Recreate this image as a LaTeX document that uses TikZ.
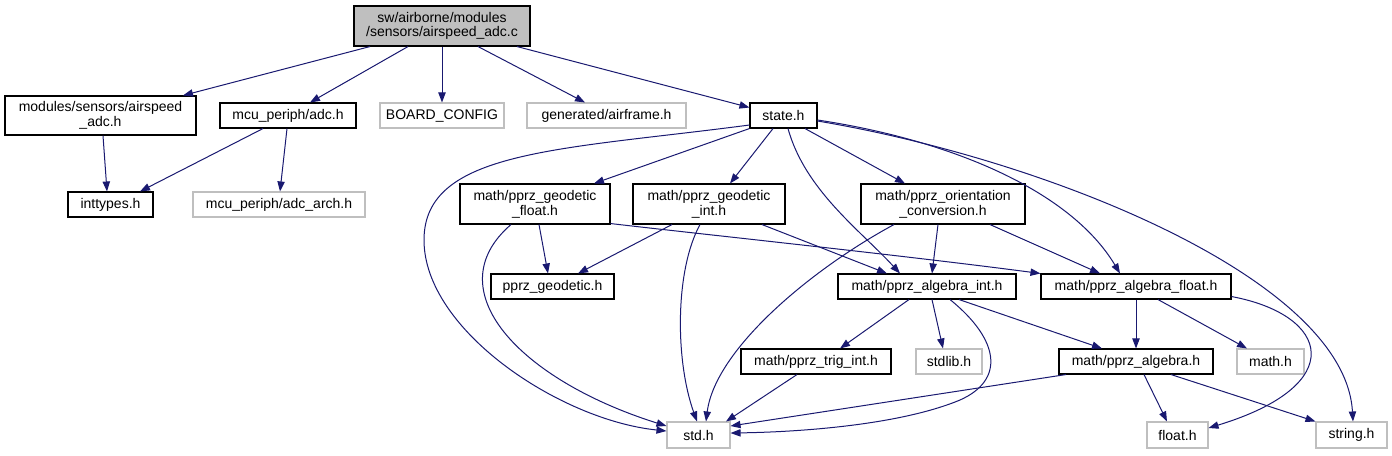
\documentclass[tikz,border=0pt]{standalone}
\usepackage{fontspec}
\setmainfont{Liberation Sans}
\usetikzlibrary{arrows.meta,calc}
\definecolor{edgeblue}{HTML}{191970}
\definecolor{nodegray}{HTML}{BFBFBF}
\begin{document}
\begin{tikzpicture}[x=0.75pt,y=-0.75pt,
  box/.style={draw=black,line width=0.8pt,rectangle,inner sep=0pt,align=center,font=\fontsize{10.5}{11}\selectfont},
  und/.style={box,draw=nodegray},
  bw/.style={minimum width=#1*0.75pt},
  bh/.style={minimum height=#1*0.75pt},
  dep/.style={draw=edgeblue,line width=0.75pt,-{Triangle[length=7.5pt,width=5.5pt]}}]
\path[use as bounding box] (0,0) rectangle (1392,455);
% nodes
\node[box,fill=nodegray,bw=176,bh=40] (root) at (442,26) {sw/airborne/modules\\/sensors/airspeed\_adc.c};
\node[box,bw=191,bh=39] (air) at (100.5,115.5) {modules/sensors/airspeed\\\_adc.h};
\node[box,bw=136,bh=25] (adc) at (288,115.5) {mcu\_periph/adc.h};
\node[und,bw=124,bh=25] (board) at (442,115.5) {BOARD\_CONFIG};
\node[und,bw=159,bh=25] (airframe) at (606.5,115.5) {generated/airframe.h};
\node[box,bw=67,bh=25] (state) at (783.5,115.5) {state.h};
\node[box,bw=85,bh=25] (inttypes) at (110.5,204.5) {inttypes.h};
\node[und,bw=172,bh=25] (adcarch) at (279,204.5) {mcu\_periph/adc\_arch.h};
\node[box,bw=150,bh=40] (gfloat) at (535,204) {math/pprz\_geodetic\\\_float.h};
\node[box,bw=152,bh=40] (gint) at (709,204) {math/pprz\_geodetic\\\_int.h};
\node[box,bw=164,bh=40] (orient) at (943,204) {math/pprz\_orientation\\\_conversion.h};
\node[box,bw=123,bh=25] (geod) at (552.5,286.5) {pprz\_geodetic.h};
\node[box,bw=178,bh=25] (aint) at (927,286.5) {math/pprz\_algebra\_int.h};
\node[box,bw=190,bh=25] (afloat) at (1136,286.5) {math/pprz\_algebra\_float.h};
\node[box,bw=150,bh=25] (trig) at (816,361.5) {math/pprz\_trig\_int.h};
\node[und,bw=66,bh=25] (stdlib) at (949,361.5) {stdlib.h};
\node[box,bw=154,bh=25] (alg) at (1136,361.5) {math/pprz\_algebra.h};
\node[und,bw=67,bh=25] (mathh) at (1270.5,361.5) {math.h};
\node[und,bw=63,bh=26] (std) at (698.5,435) {std.h};
\node[und,bw=61,bh=26] (floath) at (1177.5,435) {float.h};
\node[und,bw=71,bh=26] (stringh) at (1351.5,435) {string.h};
% edges from root
\draw[dep] ($(root.south)+(-72,0)$) -- ($(air.north)+(82.5,0)$);
\draw[dep] ($(root.south)+(-34,0)$) -- ($(adc.north)+(22,0)$);
\draw[dep] (root.south) -- (board.north);
\draw[dep] ($(root.south)+(36,0)$) -- ($(airframe.north)+(-21.5,0)$);
\draw[dep] ($(root.south)+(75,0)$) -- ($(state.west)+(0,-8)$);
% row 1
\draw[dep] ($(air.south)+(2.5,0)$) -- ($(inttypes.north)+(-3.5,0)$);
\draw[dep] ($(adc.south)+(-25,0)$) -- ($(inttypes.north)+(29.5,0)$);
\draw[dep] ($(adc.south)+(-1,0)$) -- ($(adcarch.north)+(1,0)$);
% state.h
\draw[dep] ($(state.west)+(0,9.5)$) .. controls (560,150) and (424,150) .. (424,240)
  .. controls (424,330) and (560,420) .. ($(std.west)+(0,-4)$);
\draw[dep] (state.south west) -- ($(gfloat.north)+(59,0)$);
\draw[dep] ($(state.south)+(-10.5,0)$) -- ($(gint.north)+(21,0)$);
\draw[dep] ($(state.south)+(21.5,0)$) -- ($(orient.north)+(-38,0)$);
\draw[dep] ($(state.south)+(4.5,0)$) .. controls (805,190) and (860,230) .. ($(aint.north)+(-27,0)$);
\draw[dep] ($(state.east)+(0,4.5)$) .. controls (950,140) and (1070,190) .. ($(afloat.north)+(-16,0)$);
\draw[dep] ($(state.east)+(0,5.5)$) .. controls (1050,160) and (1345,280) .. ($(stringh.north)+(1.5,0)$);
% geodetic float
\draw[dep] ($(gfloat.south)+(4,0)$) -- ($(geod.north)+(-4.5,0)$);
\draw[dep] ($(gfloat.south)+(-24,0)$) .. controls (435,290) and (520,380) .. ($(std.west)+(0,-9)$);
\draw[dep] ($(gfloat.south east)+(0,-1)$) .. controls (700,234) and (900,255) .. (afloat.north west);
% geodetic int
\draw[dep] ($(gint.south)+(-37,0)$) -- ($(geod.north)+(25.5,0)$);
\draw[dep] ($(gint.south)+(-9,0)$) .. controls (675,270) and (675,360) .. ($(std.north)+(-1.5,0)$);
\draw[dep] ($(gint.south)+(53,0)$) -- ($(aint.north)+(-40,0)$);
% orientation
\draw[dep] ($(orient.south)+(-49,0)$) .. controls (810,270) and (715,350) .. ($(std.north)+(7.5,0)$);
\draw[dep] ($(orient.south)+(-5,0)$) -- ($(aint.north)+(5,0)$);
\draw[dep] ($(orient.south)+(47,0)$) -- ($(afloat.north)+(-36,0)$);
% algebra int
\draw[dep] ($(aint.south)+(-18,0)$) -- ($(trig.north)+(24,0)$);
\draw[dep] ($(aint.south)+(5,0)$) -- ($(stdlib.north)+(-6,0)$);
\draw[dep] ($(aint.south)+(23,0)$) .. controls (1000,340) and (1005,380) .. (960,400)
  .. controls (900,425) and (800,432) .. ($(std.east)+(0,-2)$);
\draw[dep] ($(aint.south)+(32,0)$) -- ($(alg.north)+(-34,0)$);
% algebra float
\draw[dep] (afloat.south) -- (alg.north);
\draw[dep] ($(afloat.south)+(22,0)$) -- ($(mathh.north)+(-23.5,0)$);
\draw[dep] ($(afloat.south east)+(0,-3)$) .. controls (1330,315) and (1350,385) .. ($(floath.east)+(0,-7)$);
% trig
\draw[dep] ($(trig.south)+(-19,0)$) -- ($(std.north)+(27.5,0)$);
% algebra
\draw[dep] ($(alg.south)+(-70,0)$) -- ($(std.east)+(0,-9)$);
\draw[dep] ($(alg.south)+(8,0)$) -- ($(floath.north)+(-10.5,0)$);
\draw[dep] ($(alg.south)+(35,0)$) -- (stringh.north west);
\end{tikzpicture}
\end{document}
